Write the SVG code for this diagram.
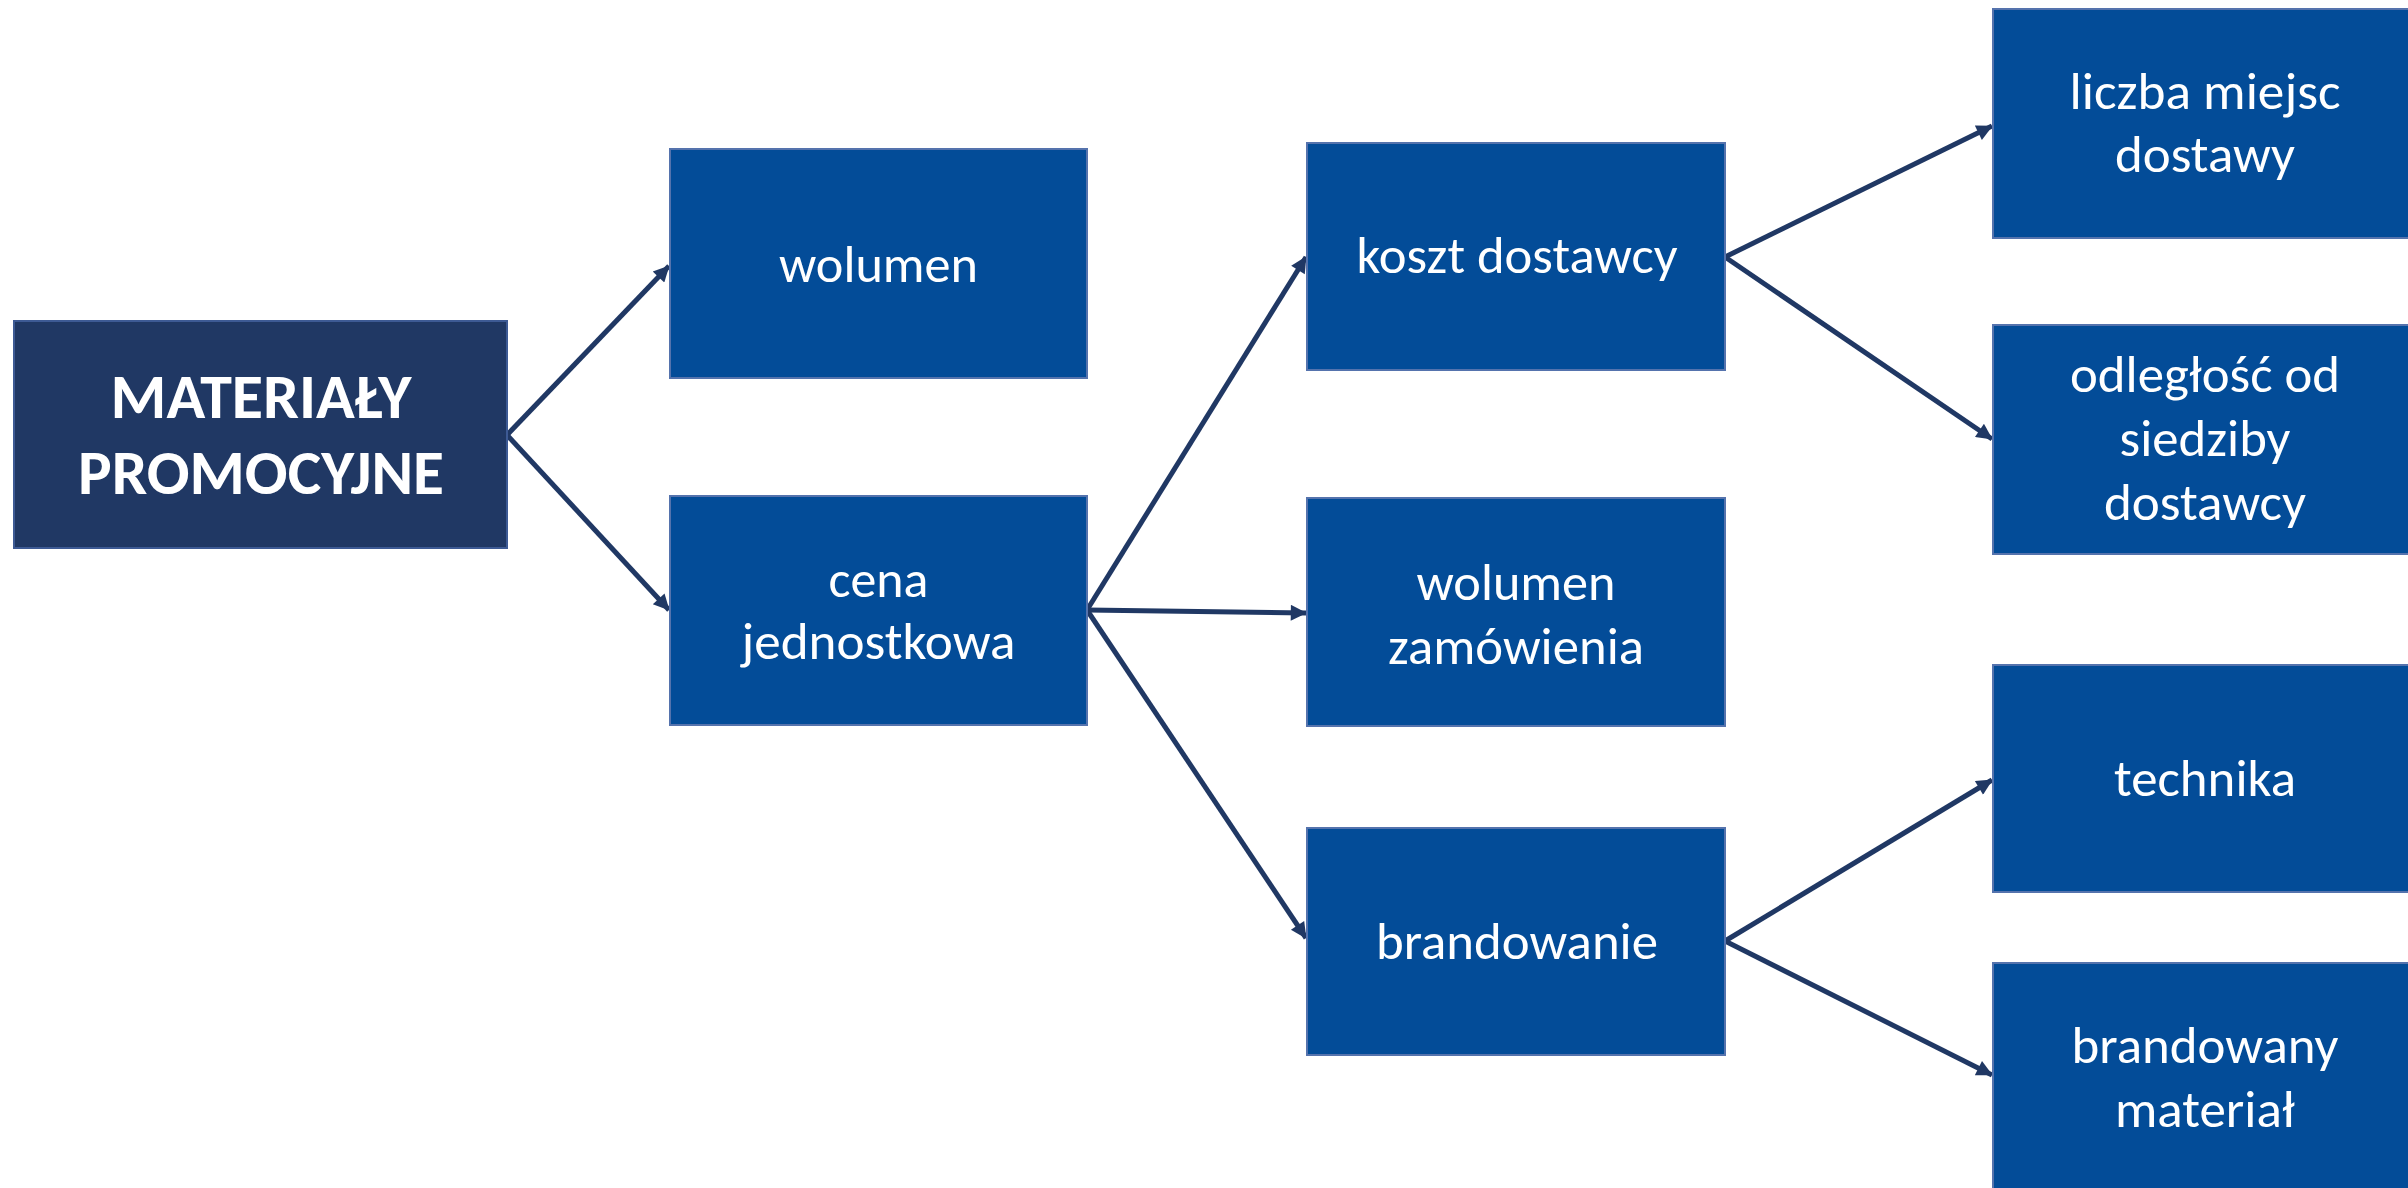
<svg xmlns="http://www.w3.org/2000/svg" width="2408" height="1188" viewBox="0 0 2408 1188">
<defs>
<style>
.box{fill:#034C98;stroke:#5573AD;stroke-width:2}
.root{fill:#203864;stroke:#3D5A94;stroke-width:2}
.t{font-family:Carlito,"Open Sans","Liberation Sans",sans-serif;font-size:52px;fill:#FFFFFF;text-anchor:middle}
.tb{font-family:Carlito,"Open Sans","Liberation Sans",sans-serif;font-size:62px;font-weight:bold;fill:#FFFFFF;text-anchor:middle}
.c{fill:none;stroke:#203864;stroke-width:5;marker-end:url(#ah)}
</style>
<marker id="ah" viewBox="0 0 10 10" refX="9.5" refY="5" markerWidth="19" markerHeight="16" markerUnits="userSpaceOnUse" orient="auto">
<path d="M0,0 L10,5 L0,10 z" fill="#203864"/>
</marker>
</defs>
<rect width="2408" height="1188" fill="#FFFFFF"/>
<g id="connectors">
<line class="c" x1="507" y1="435" x2="669" y2="266"/>
<line class="c" x1="507" y1="435" x2="669" y2="610"/>
<line class="c" x1="1087" y1="610" x2="1306" y2="257"/>
<line class="c" x1="1087" y1="610" x2="1306" y2="613"/>
<line class="c" x1="1087" y1="610" x2="1306" y2="938"/>
<line class="c" x1="1725" y1="257" x2="1992" y2="126"/>
<line class="c" x1="1725" y1="257" x2="1992" y2="439"/>
<line class="c" x1="1725" y1="941" x2="1992" y2="780"/>
<line class="c" x1="1725" y1="941" x2="1992" y2="1075"/>
</g>
<g id="node-root">
<rect class="root" x="14" y="321" width="493" height="227"/>
<text class="tb" x="261" y="418" textLength="301" lengthAdjust="spacingAndGlyphs">MATERIAŁY</text>
<text class="tb" x="261" y="494" textLength="366" lengthAdjust="spacingAndGlyphs">PROMOCYJNE</text>
</g>
<g id="node-wolumen">
<rect class="box" x="670" y="149" width="417" height="229"/>
<text class="t" x="878.5" y="282" textLength="199" lengthAdjust="spacingAndGlyphs">wolumen</text>
</g>
<g id="node-cena">
<rect class="box" x="670" y="496" width="417" height="229"/>
<text class="t" x="878.5" y="597" textLength="100" lengthAdjust="spacingAndGlyphs">cena</text>
<text class="t" x="878.5" y="659" textLength="274" lengthAdjust="spacingAndGlyphs">jednostkowa</text>
</g>
<g id="node-koszt">
<rect class="box" x="1307" y="143" width="418" height="227"/>
<text class="t" x="1517" y="273" textLength="321" lengthAdjust="spacingAndGlyphs">koszt dostawcy</text>
</g>
<g id="node-wolumen-zamowienia">
<rect class="box" x="1307" y="498" width="418" height="228"/>
<text class="t" x="1516" y="600" textLength="199" lengthAdjust="spacingAndGlyphs">wolumen</text>
<text class="t" x="1516" y="664" textLength="256" lengthAdjust="spacingAndGlyphs">zamówienia</text>
</g>
<g id="node-brandowanie">
<rect class="box" x="1307" y="828" width="418" height="227"/>
<text class="t" x="1517" y="959" textLength="282" lengthAdjust="spacingAndGlyphs">brandowanie</text>
</g>
<g id="node-liczba">
<rect class="box" x="1993" y="9" width="420" height="229"/>
<text class="t" x="2205" y="109" textLength="271" lengthAdjust="spacingAndGlyphs">liczba miejsc</text>
<text class="t" x="2205" y="172" textLength="180" lengthAdjust="spacingAndGlyphs">dostawy</text>
</g>
<g id="node-odleglosc">
<rect class="box" x="1993" y="325" width="420" height="229"/>
<text class="t" x="2205" y="392" textLength="270" lengthAdjust="spacingAndGlyphs">odległość od</text>
<text class="t" x="2205" y="456" textLength="171" lengthAdjust="spacingAndGlyphs">siedziby</text>
<text class="t" x="2205" y="520" textLength="202" lengthAdjust="spacingAndGlyphs">dostawcy</text>
</g>
<g id="node-technika">
<rect class="box" x="1993" y="665" width="420" height="227"/>
<text class="t" x="2205" y="796" textLength="182" lengthAdjust="spacingAndGlyphs">technika</text>
</g>
<g id="node-brandowany">
<rect class="box" x="1993" y="963" width="420" height="240"/>
<text class="t" x="2205" y="1063" textLength="267" lengthAdjust="spacingAndGlyphs">brandowany</text>
<text class="t" x="2205" y="1127" textLength="180" lengthAdjust="spacingAndGlyphs">materiał</text>
</g>
</svg>
